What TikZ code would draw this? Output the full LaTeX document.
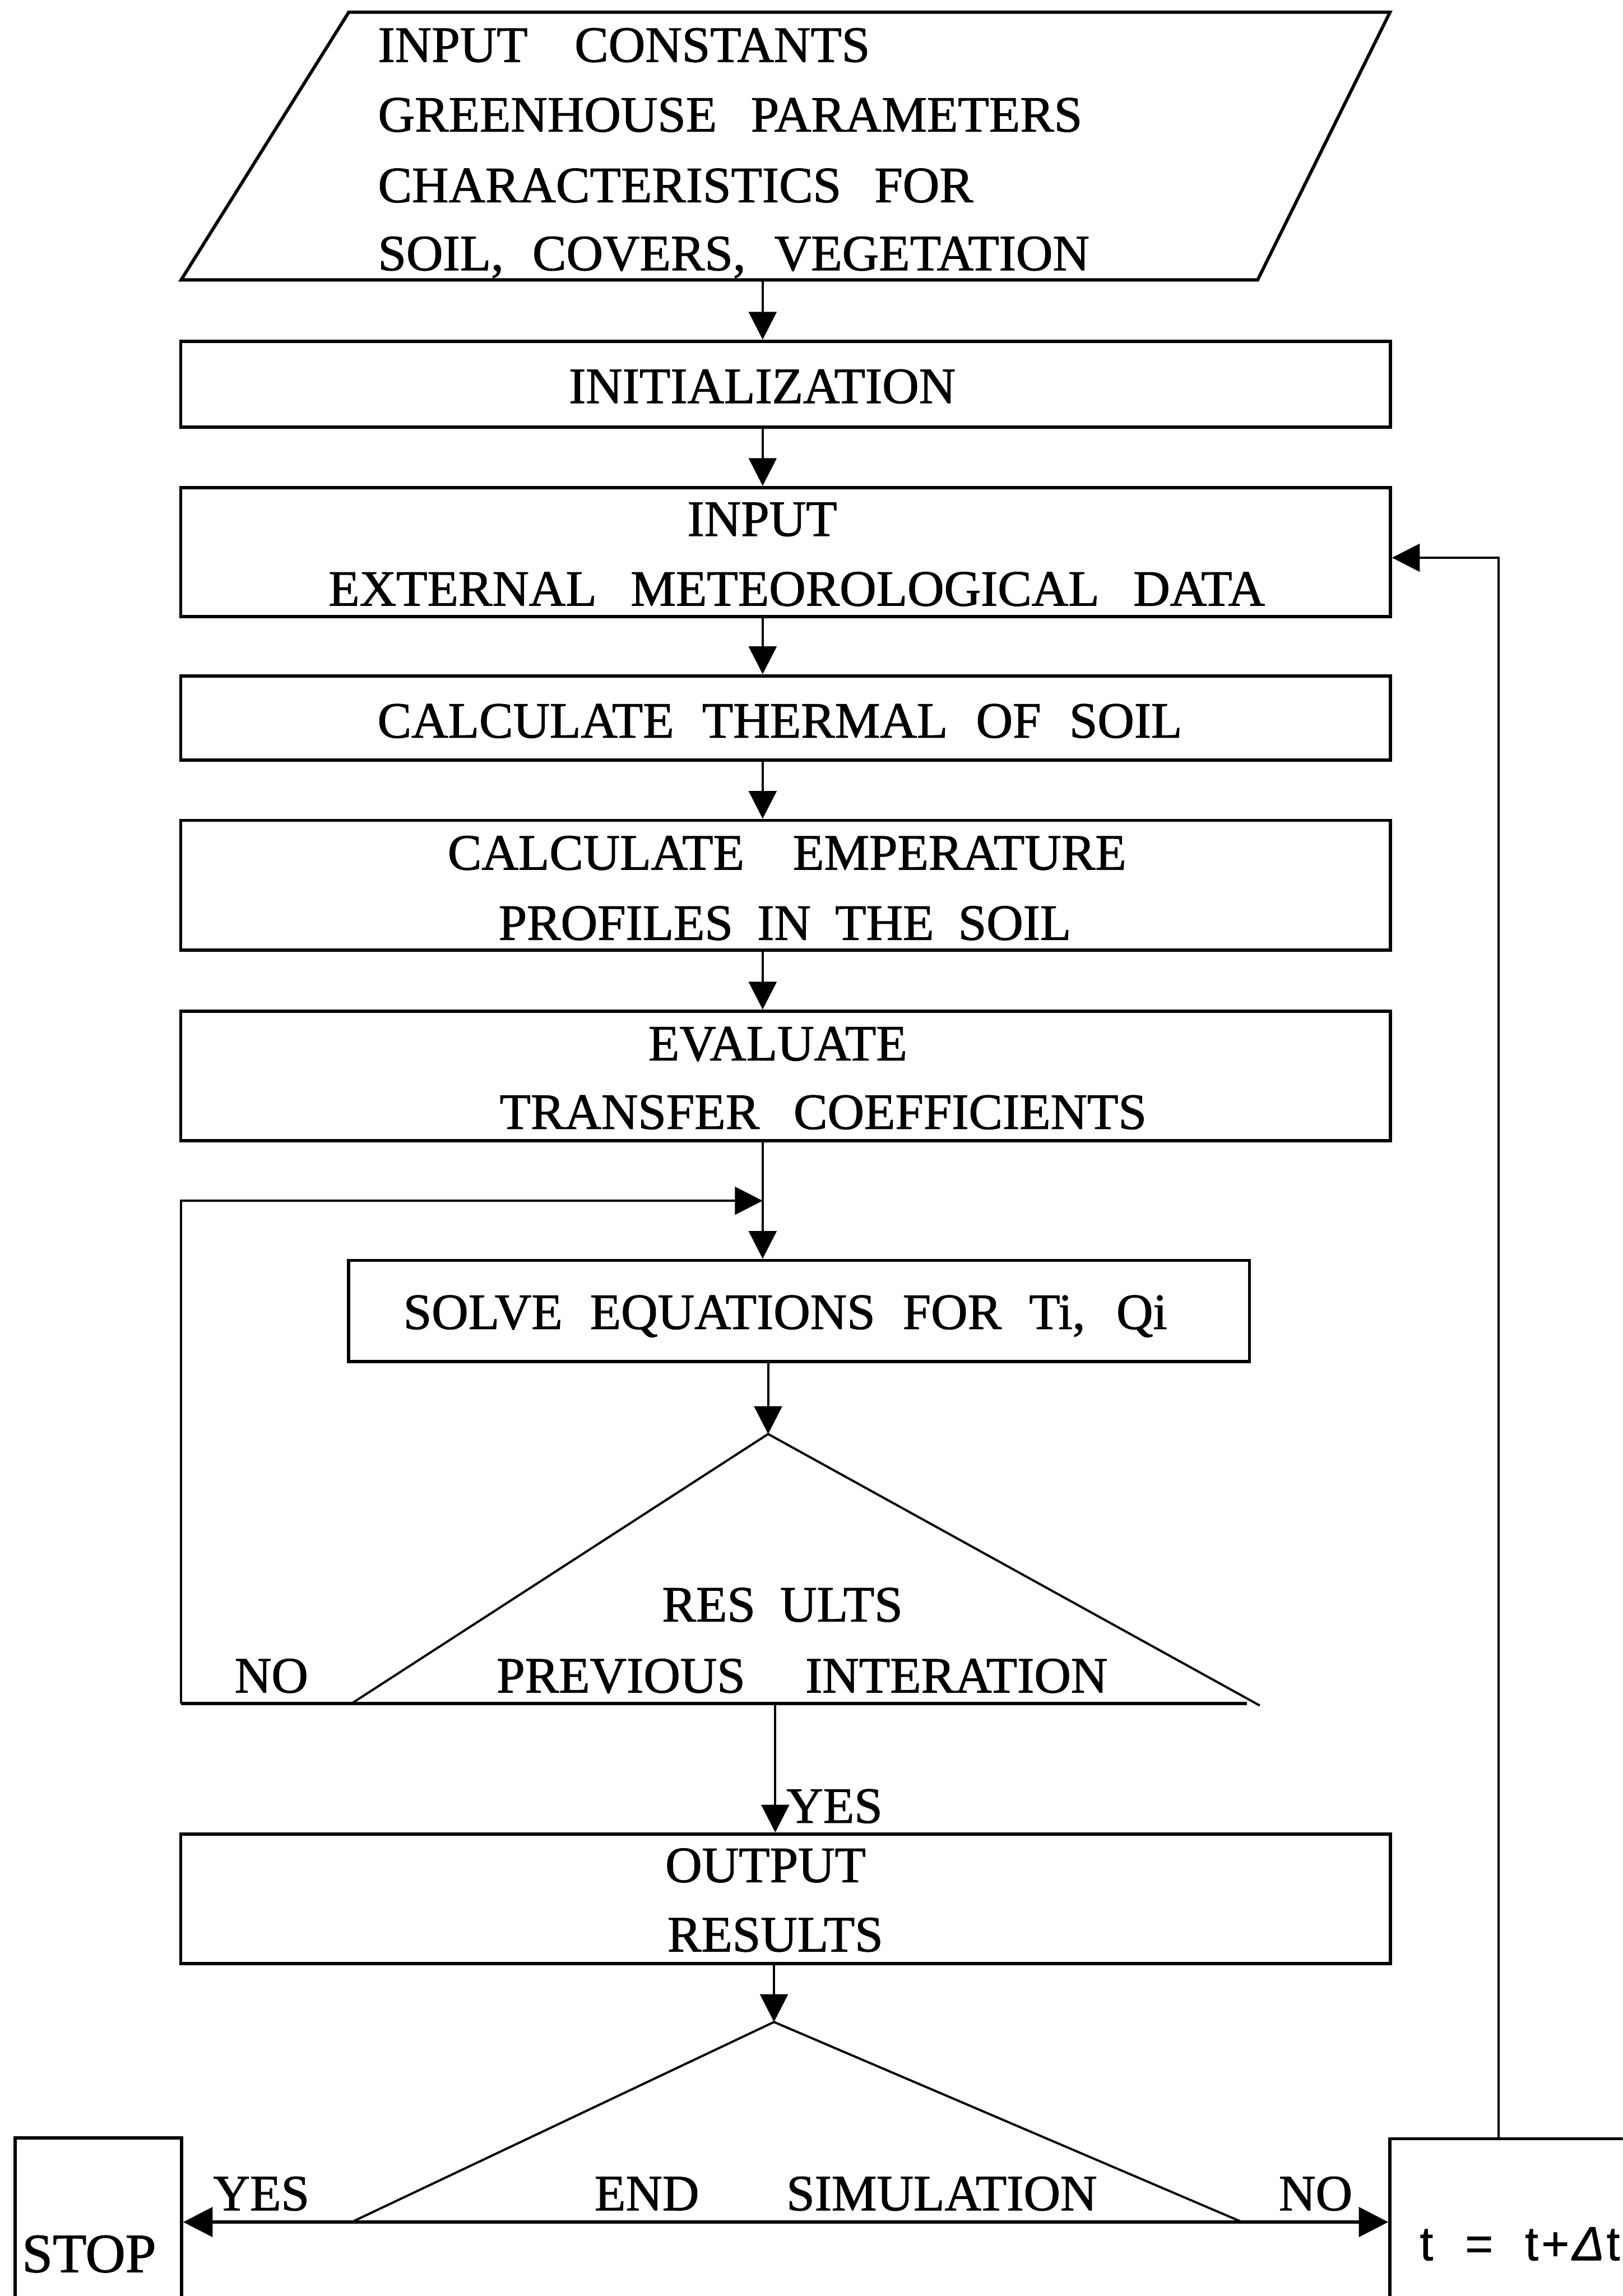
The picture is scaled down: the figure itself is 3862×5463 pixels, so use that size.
\documentclass[tikz,border=0pt]{standalone}
\usepackage{fontspec}
\setmainfont{Liberation Serif}[FakeBold=1.2]
\setsansfont{Liberation Sans}[FakeBold=0.8]
\usetikzlibrary{arrows.meta,calc}

\newcommand\lblsize{\fontsize{34.4pt}{41pt}\selectfont}
\newcommand\stopsize{\fontsize{37.4pt}{44pt}\selectfont}
\newcommand\stepsize{\fontsize{32.6pt}{39pt}\selectfont}
\newcommand\spreadto[2]{\makebox[#1][s]{#2}}

\tikzset{
  boxline/.style={line width=2.2pt},
  procbox/.style={draw, boxline, rectangle, inner sep=0pt, minimum width=28.77cm},
  conn/.style={line width=1.5pt},
  arr/.style={conn, -{Triangle[length=0.66cm,width=0.66cm]}},
  lbl/.style={inner sep=0pt, anchor=base, font=\lblsize},
  lblw/.style={inner sep=0pt, anchor=base west, font=\lblsize},
}

\begin{document}
\begin{tikzpicture}[x=0.01cm, y=-0.01cm, line join=miter]
  \useasboundingbox (0,0) rectangle (3862,5463);
  \clip (0,0) rectangle (3862,5463);

  % input data parallelogram
  \coordinate (pTL) at (830,29);
  \coordinate (pTR) at (3308,29);
  \coordinate (pBR) at (2993,666);
  \coordinate (pBL) at (431,666);
  \draw[boxline] (pTL) -- (pTR) -- (pBR) -- (pBL) -- cycle;
  \node[lblw] (c1) at (899,147) {\spreadto{11.70cm}{INPUT CONSTANTS}};
  \node[lblw] (c2) at (899,313) {\spreadto{16.75cm}{GREENHOUSE PARAMETERS}};
  \node[lblw] (c3) at (899,481) {\spreadto{14.16cm}{CHARACTERISTICS FOR}};
  \node[lblw] (c4) at (899,643) {\spreadto{16.92cm}{SOIL, COVERS, VEGETATION}};

  % process boxes
  \node[procbox, minimum height=2.04cm] (init)    at (1869.5,914)    {};
  \node[procbox, minimum height=3.07cm] (inp)     at (1869.5,1313.5) {};
  \node[procbox, minimum height=2.01cm] (thermal) at (1869.5,1708.5) {};
  \node[procbox, minimum height=3.09cm] (temp)    at (1869.5,2106.5) {};
  \node[procbox, minimum height=3.08cm] (evalc)   at (1869.5,2560)   {};
  \node[procbox, minimum width=21.43cm, minimum height=2.41cm] (solve) at (1901.5,3119.5) {};
  \node[procbox, minimum height=3.08cm] (output)  at (1869.5,4518)   {};
  \node[draw, boxline, inner sep=0pt, minimum width=3.96cm, minimum height=5.13cm] (stop)  at (234,5343.5)  {};
  \node[draw, boxline, inner sep=0pt, minimum width=7.92cm, minimum height=5.11cm] (tstep) at (3704,5344.5) {};

  % box texts
  \node[lbl] (tinit) at (1814,959)  {INITIALIZATION};
  \node[lbl] (tin1)  at (1814,1275) {INPUT};
  \node[lbl] (tin2)  at (1896,1441) {\spreadto{22.27cm}{EXTERNAL METEOROLOGICAL DATA}};
  \node[lbl] (tth)   at (1856,1755) {\spreadto{19.14cm}{CALCULATE THERMAL OF SOIL}};
  \node[lbl] (tte1)  at (1873,2069) {\spreadto{16.14cm}{CALCULATE EMPERATURE}};
  \node[lbl] (tte2)  at (1868,2236) {\spreadto{13.62cm}{PROFILES IN THE SOIL}};
  \node[lbl] (tev1)  at (1851,2523) {EVALUATE};
  \node[lbl] (tev2)  at (1959,2686) {\spreadto{15.39cm}{TRANSFER COEFFICIENTS}};
  \node[lbl] (tso)   at (1869,3162) {\spreadto{18.17cm}{SOLVE EQUATIONS FOR Ti, Qi}};
  \node[lbl] (tou1)  at (1822,4478) {OUTPUT};
  \node[lbl] (tou2)  at (1845,4643) {RESULTS};
  \node[inner sep=0pt, anchor=base, font=\stopsize] (tstop) at (212,5406) {STOP};
  \node[inner sep=0pt, anchor=base, font=\stepsize\sffamily] (tstp) at (3617,5378)
    {\spreadto{4.76cm}{t = t\kern0.06em+\kern0.06em\textit{Δ}\kern0.04em t}};

  % first decision: convergence test
  \coordinate (t1a) at (1828,3412);
  \coordinate (t1l) at (837,4053);
  \coordinate (t1r) at (2998,4058);
  \coordinate (t1e) at (2968,4053);
  \coordinate (nlb) at (431,4053);
  \coordinate (t1o) at (1845,4053);
  \draw[conn] (t1l) -- (t1a) -- (t1r);
  \draw[boxline] (nlb) -- (t1e);
  \node[lbl] (tr1) at (1862,3858) {\spreadto{5.72cm}{RES ULTS}};
  \node[lbl] (tr2) at (1909,4027) {\spreadto{14.53cm}{PREVIOUS INTERATION}};
  \node[lbl] (tno1) at (646,4027) {NO};
  \node[lbl] (tyes1) at (1986,4337) {YES};

  % second decision: end of simulation
  \coordinate (t2a) at (1842,4811);
  \coordinate (t2l) at (837,5287);
  \coordinate (t2r) at (2956,5287);
  \draw[conn] (t2l) -- (t2a) -- (t2r);
  \node[lbl] (tend) at (2013,5259) {\spreadto{11.95cm}{END SIMULATION}};
  \node[lbl] (tyes2) at (622,5259) {YES};
  \node[lbl] (tno2) at (3131,5259) {NO};

  % main flow
  \coordinate (sp) at (1815,0);
  \coordinate (pmid) at ($(pBL)!0.5!(pBR)$);
  \draw[arr] (pmid -| sp) -- (init.north -| sp);
  \draw[arr] (init.south -| sp) -- (inp.north -| sp);
  \draw[arr] (inp.south -| sp) -- (thermal.north -| sp);
  \draw[arr] (thermal.south -| sp) -- (temp.north -| sp);
  \draw[arr] (temp.south -| sp) -- (evalc.north -| sp);
  \draw[arr] (evalc.south -| sp) -- (solve.north -| sp);
  \draw[arr] (solve.south -| t1a) -- (t1a);
  \draw[arr] (t1o) -- (output.north -| t1o);
  \draw[arr] (output.south -| t2a) -- (t2a);

  % iteration loop back above the solver
  \coordinate (jn) at (1815,2857);
  \draw[arr] (nlb) |- (jn);

  % end-of-simulation branches
  \draw[boxline, {Triangle[length=0.7cm,width=0.7cm]}-{Triangle[length=0.7cm,width=0.7cm]}]
    (stop.east |- t2l) -- (tstep.west |- t2l);

  % time step loop back to the weather input
  \coordinate (lp) at (3567,1327);
  \draw[arr] (tstep.north -| lp) -- (lp) -- (inp.east |- lp);
\end{tikzpicture}
\end{document}
